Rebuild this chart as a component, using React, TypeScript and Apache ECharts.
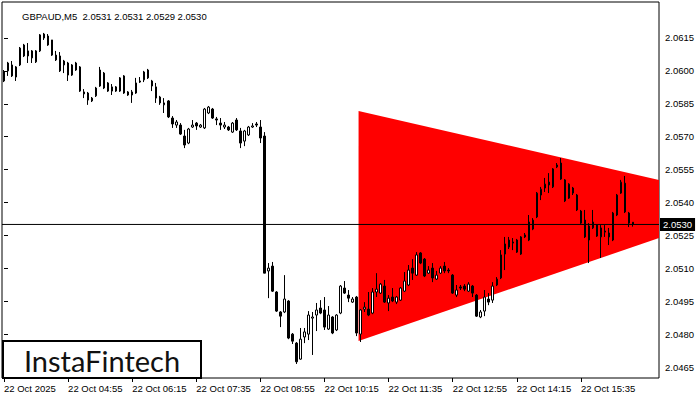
import { useEffect, useRef } from "react";
import * as echarts from "echarts";

// GBPAUD M5 quotes, one entry per bar starting 22 Oct 03:35
const symbolTitle = "GBPAUD,M5  2.0531 2.0531 2.0529 2.0530";

const opens = [
  2.05954, 2.06000, 2.06027, 2.05972, 2.06027, 2.06118, 2.06091, 2.06059, 2.06041, 2.06091,
  2.06150, 2.06159, 2.06141, 2.06072, 2.06068, 2.06027, 2.06036, 2.05981, 2.06036, 2.06018,
  2.05904, 2.05899, 2.05863, 2.05886, 2.05931, 2.05990, 2.05945, 2.05908, 2.05908, 2.05908,
  2.05977, 2.05904, 2.05904, 2.05899, 2.05949, 2.05959, 2.06004, 2.05954, 2.05927, 2.05881,
  2.05845, 2.05863, 2.05785, 2.05753, 2.05753, 2.05703, 2.05671, 2.05744, 2.05762, 2.05744,
  2.05740, 2.05808, 2.05826, 2.05781, 2.05762, 2.05744, 2.05744, 2.05721, 2.05776, 2.05726,
  2.05680, 2.05708, 2.05744, 2.05758, 2.05744, 2.05703, 2.05088, 2.05110, 2.04992, 2.04901,
  2.04901, 2.04951, 2.04800, 2.04759, 2.04686, 2.04787, 2.04800, 2.04873, 2.04887, 2.04919,
  2.04910, 2.04823, 2.04878, 2.04819, 2.04896, 2.05010, 2.04978, 2.04946, 2.04969, 2.04800,
  2.04914, 2.04914, 2.04896, 2.04992, 2.04987, 2.05019, 2.04942, 2.04969, 2.04946, 2.04955,
  2.04996, 2.05024, 2.05101, 2.05069, 2.05170, 2.05142, 2.05078, 2.05101, 2.05051, 2.05078,
  2.05110, 2.05092, 2.05069, 2.04978, 2.05015, 2.05019, 2.04996, 2.05019, 2.04978, 2.04878,
  2.04905, 2.04960, 2.04955, 2.05024, 2.05056, 2.05165, 2.05197, 2.05220, 2.05229, 2.05165,
  2.05252, 2.05229, 2.05279, 2.05334, 2.05434, 2.05466, 2.05493, 2.05471, 2.05562, 2.05580,
  2.05503, 2.05420, 2.05466, 2.05434, 2.05361, 2.05320, 2.05229, 2.05284, 2.05297, 2.05243,
  2.05270, 2.05261, 2.05229, 2.05343, 2.05443, 2.05488, 2.05352, 2.0531,
];

const closes = [
  2.05995, 2.06036, 2.05977, 2.06018, 2.06104, 2.06068, 2.06068, 2.06091, 2.06091, 2.06164,
  2.06168, 2.06118, 2.06072, 2.06050, 2.06000, 2.06045, 2.05981, 2.06027, 2.06004, 2.05908,
  2.05895, 2.05867, 2.05876, 2.05922, 2.06004, 2.05922, 2.05908, 2.05927, 2.05927, 2.05968,
  2.05899, 2.05890, 2.05890, 2.05945, 2.05954, 2.05995, 2.05968, 2.05931, 2.05876, 2.05854,
  2.05854, 2.05790, 2.05758, 2.05767, 2.05712, 2.05662, 2.05735, 2.05753, 2.05749, 2.05753,
  2.05826, 2.05835, 2.05785, 2.05776, 2.05753, 2.05753, 2.05731, 2.05762, 2.05731, 2.05671,
  2.05726, 2.05744, 2.05749, 2.05753, 2.05694, 2.05078, 2.05101, 2.04996, 2.04905, 2.04882,
  2.04960, 2.04782, 2.04768, 2.04674, 2.04777, 2.04810, 2.04887, 2.04878, 2.04910, 2.04896,
  2.04832, 2.04887, 2.04805, 2.04887, 2.05019, 2.04987, 2.04964, 2.04960, 2.04805, 2.04910,
  2.04923, 2.04887, 2.04992, 2.05005, 2.05028, 2.04946, 2.04964, 2.04951, 2.04969, 2.05010,
  2.05042, 2.05092, 2.05078, 2.05161, 2.05124, 2.05065, 2.05092, 2.05056, 2.05069, 2.05101,
  2.05088, 2.05088, 2.04987, 2.05001, 2.05010, 2.05005, 2.05028, 2.04987, 2.04882, 2.04901,
  2.04969, 2.04946, 2.05019, 2.05051, 2.05161, 2.05211, 2.05229, 2.05215, 2.05174, 2.05243,
  2.05243, 2.05311, 2.05320, 2.05443, 2.05461, 2.05484, 2.05480, 2.05553, 2.05571, 2.05507,
  2.05407, 2.05484, 2.05443, 2.05366, 2.05306, 2.05243, 2.05293, 2.05311, 2.05247, 2.05284,
  2.05265, 2.05243, 2.05352, 2.05434, 2.05493, 2.05357, 2.05306, 2.0530,
];

const lows = [
  2.05949, 2.05977, 2.05972, 2.05954, 2.06022, 2.06063, 2.06036, 2.06036, 2.06036, 2.06086,
  2.06141, 2.06114, 2.06068, 2.06045, 2.05995, 2.05990, 2.05954, 2.05977, 2.06000, 2.05904,
  2.05876, 2.05845, 2.05858, 2.05881, 2.05927, 2.05917, 2.05904, 2.05890, 2.05904, 2.05904,
  2.05895, 2.05886, 2.05854, 2.05895, 2.05945, 2.05949, 2.05963, 2.05908, 2.05854, 2.05845,
  2.05808, 2.05785, 2.05740, 2.05740, 2.05708, 2.05648, 2.05666, 2.05740, 2.05731, 2.05740,
  2.05735, 2.05803, 2.05781, 2.05753, 2.05731, 2.05735, 2.05726, 2.05717, 2.05726, 2.05648,
  2.05657, 2.05703, 2.05740, 2.05744, 2.05671, 2.05078, 2.04964, 2.04992, 2.04901, 2.04832,
  2.04896, 2.04777, 2.04755, 2.04664, 2.04683, 2.04759, 2.04773, 2.04705, 2.04814, 2.04891,
  2.04819, 2.04819, 2.04800, 2.04814, 2.04891, 2.04983, 2.04946, 2.04942, 2.04791, 2.04764,
  2.04901, 2.04882, 2.04891, 2.04969, 2.04983, 2.04942, 2.04905, 2.04946, 2.04937, 2.04951,
  2.04992, 2.05019, 2.05047, 2.05065, 2.05119, 2.05060, 2.05074, 2.05037, 2.05047, 2.05074,
  2.05078, 2.05078, 2.04983, 2.04969, 2.05001, 2.04996, 2.04992, 2.04969, 2.04878, 2.04873,
  2.04882, 2.04932, 2.04942, 2.05019, 2.05051, 2.05092, 2.05188, 2.05183, 2.05170, 2.05161,
  2.05238, 2.05224, 2.05274, 2.05329, 2.05411, 2.05448, 2.05443, 2.05466, 2.05557, 2.05503,
  2.05402, 2.05416, 2.05434, 2.05361, 2.05302, 2.05238, 2.05124, 2.05279, 2.05243, 2.05147,
  2.05243, 2.05206, 2.05224, 2.05338, 2.05439, 2.05352, 2.05288, 2.0529,
];

const highs = [
  2.06004, 2.06041, 2.06045, 2.06022, 2.06109, 2.06123, 2.06127, 2.06095, 2.06095, 2.06168,
  2.06173, 2.06168, 2.06141, 2.06091, 2.06086, 2.06050, 2.06041, 2.06031, 2.06041, 2.06022,
  2.05917, 2.05904, 2.05881, 2.05927, 2.06018, 2.05995, 2.05949, 2.05940, 2.05931, 2.05972,
  2.05981, 2.05908, 2.05913, 2.05968, 2.05972, 2.06000, 2.06009, 2.05959, 2.05945, 2.05886,
  2.05876, 2.05867, 2.05794, 2.05776, 2.05762, 2.05731, 2.05740, 2.05776, 2.05767, 2.05758,
  2.05831, 2.05840, 2.05831, 2.05790, 2.05785, 2.05767, 2.05749, 2.05767, 2.05785, 2.05740,
  2.05731, 2.05749, 2.05762, 2.05767, 2.05776, 2.05721, 2.05124, 2.05129, 2.04996, 2.04905,
  2.05069, 2.04955, 2.04805, 2.04764, 2.04828, 2.04828, 2.04905, 2.04901, 2.04942, 2.04955,
  2.04969, 2.04928, 2.04882, 2.04891, 2.05024, 2.05042, 2.05001, 2.04969, 2.04974, 2.04914,
  2.04946, 2.04992, 2.05010, 2.05078, 2.05033, 2.05047, 2.04978, 2.05010, 2.04974, 2.05015,
  2.05083, 2.05115, 2.05142, 2.05174, 2.05174, 2.05147, 2.05110, 2.05124, 2.05088, 2.05110,
  2.05129, 2.05101, 2.05074, 2.05024, 2.05024, 2.05028, 2.05037, 2.05024, 2.04983, 2.04910,
  2.05001, 2.04987, 2.05037, 2.05060, 2.05183, 2.05243, 2.05243, 2.05238, 2.05234, 2.05247,
  2.05261, 2.05343, 2.05329, 2.05448, 2.05471, 2.05512, 2.05534, 2.05557, 2.05580, 2.05603,
  2.05507, 2.05488, 2.05471, 2.05439, 2.05366, 2.05366, 2.05306, 2.05366, 2.05302, 2.05297,
  2.05297, 2.05284, 2.05357, 2.05439, 2.05503, 2.05521, 2.05357, 2.0531,
];

// time axis: M5 bars, with empty slots kept to the right of the last bar
const dayLabel = "22 Oct";
const yearLabel = "22 Oct 2025";
const firstBarMinute = 3 * 60 + 35;
const barMinutes = 5;
const slotCount = 164;
const labelEvery = 16;

// price axis
const priceMin = 2.046;
const priceMax = 2.06314;
const priceTicks = [2.0465, 2.048, 2.0495, 2.051, 2.0525, 2.054, 2.0555, 2.057, 2.0585, 2.06, 2.0615];
const lastPrice = 2.053;

// symmetrical triangle boundaries, as [bar position, price]
const wedgeUpper = [
  [88.5, 2.05817],
  [163.5, 2.05503],
];
const wedgeLower = [
  [88.5, 2.04769],
  [163.5, 2.05238],
];

const FONT = "Liberation Sans";
const FONT_SIZE = 9.5;

const timeSlots = Array.from({ length: slotCount }, (_, i) => {
  const m = firstBarMinute + i * barMinutes;
  const hh = String(Math.floor(m / 60) % 24).padStart(2, "0");
  const mm = String(m % 60).padStart(2, "0");
  return `${dayLabel} ${hh}:${mm}`;
});

const candles = opens.map((o, i) => [o, closes[i], lows[i], highs[i]]);

// current bid line spans the whole plot width
const bidLine = [
  [-0.5, lastPrice],
  [slotCount - 0.5, lastPrice],
];

const showTimeLabel = (i: number) => i % labelEvery === 0 && i < opens.length;

export default function App() {
  const ref = useRef<HTMLDivElement>(null);

  useEffect(() => {
    if (!ref.current) return;
    const chart = echarts.init(ref.current, null, { renderer: "svg" });

    const option: any = {
      animation: false,
      backgroundColor: "#ffffff",
      textStyle: { fontFamily: FONT },
      title: {
        text: symbolTitle,
        left: 17,
        top: 6,
        textStyle: { fontSize: FONT_SIZE, fontWeight: "normal", color: "#000", fontFamily: FONT },
      },
      grid: {
        left: 2,
        right: 41,
        top: 2,
        bottom: 22,
        show: true,
        borderColor: "#000",
        borderWidth: 1,
        backgroundColor: "transparent",
      },
      xAxis: [
        {
          type: "category",
          data: timeSlots,
          boundaryGap: true,
          axisLine: { show: false },
          axisTick: {
            show: true,
            alignWithLabel: true,
            interval: (i: number) => showTimeLabel(i),
            length: 4,
            lineStyle: { color: "#000" },
          },
          axisLabel: {
            interval: (i: number) => showTimeLabel(i),
            formatter: (v: string, i: number) => (i === 0 ? yearLabel : v),
            align: "left",
            color: "#000",
            fontSize: FONT_SIZE,
            fontFamily: FONT,
            margin: 5,
          },
          splitLine: { show: false },
        },
        {
          type: "value",
          min: -0.5,
          max: slotCount - 0.5,
          show: false,
        },
      ],
      yAxis: {
        type: "value",
        position: "right",
        min: priceMin,
        max: priceMax,
        axisLine: { show: false },
        axisTick: {
          show: true,
          length: 4,
          customValues: priceTicks,
          lineStyle: { color: "#000" },
        },
        axisLabel: {
          customValues: priceTicks,
          formatter: (v: number) => v.toFixed(4),
          color: "#000",
          fontSize: FONT_SIZE,
          fontFamily: FONT,
          margin: 6,
        },
        splitLine: { show: false },
      },
      series: [
        {
          type: "custom",
          name: "triangle",
          xAxisIndex: 1,
          yAxisIndex: 0,
          clip: true,
          silent: true,
          z: 1,
          data: [wedgeUpper[0]],
          renderItem: (_params: any, api: any) => {
            const pts = [...wedgeUpper, ...wedgeLower.slice().reverse()].map((p) => api.coord(p));
            return {
              type: "polygon",
              shape: { points: pts },
              style: { fill: "#ff0000", stroke: "none" },
            };
          },
        },
        {
          type: "candlestick",
          name: "GBPAUD",
          xAxisIndex: 0,
          yAxisIndex: 0,
          z: 3,
          barWidth: 2,
          data: candles,
          itemStyle: {
            color: "#ffffff",
            color0: "#000000",
            borderColor: "#000000",
            borderColor0: "#000000",
            borderColorDoji: "#000000",
            borderWidth: 1,
          },
        },
        {
          type: "line",
          name: "bid",
          xAxisIndex: 1,
          yAxisIndex: 0,
          z: 4,
          silent: true,
          symbol: "none",
          clip: false,
          data: bidLine,
          lineStyle: { color: "#000", width: 1 },
          endLabel: {
            show: true,
            formatter: () => lastPrice.toFixed(4),
            color: "#fff",
            backgroundColor: "#000",
            padding: [2, 3, 1, 3],
            fontSize: FONT_SIZE,
            fontFamily: FONT,
            distance: 1,
          },
        },
      ],
      graphic: [
        {
          type: "rect",
          z: 100,
          shape: { x: 3, y: 341, width: 198, height: 37 },
          style: { fill: "#ffffff", stroke: "#000000", lineWidth: 2 },
        },
        {
          type: "text",
          z: 101,
          x: 102,
          y: 360,
          style: {
            text: "InstaFintech",
            font: "29px Lato",
            fill: "#111111",
            align: "center",
            verticalAlign: "middle",
          },
        },
      ],
    };

    chart.setOption(option);
    return () => chart.dispose();
  }, []);

  return (
    <div
      ref={ref}
      style={{ position: "fixed", left: 0, top: 0, width: 700, height: 400 }}
    />
  );
}
